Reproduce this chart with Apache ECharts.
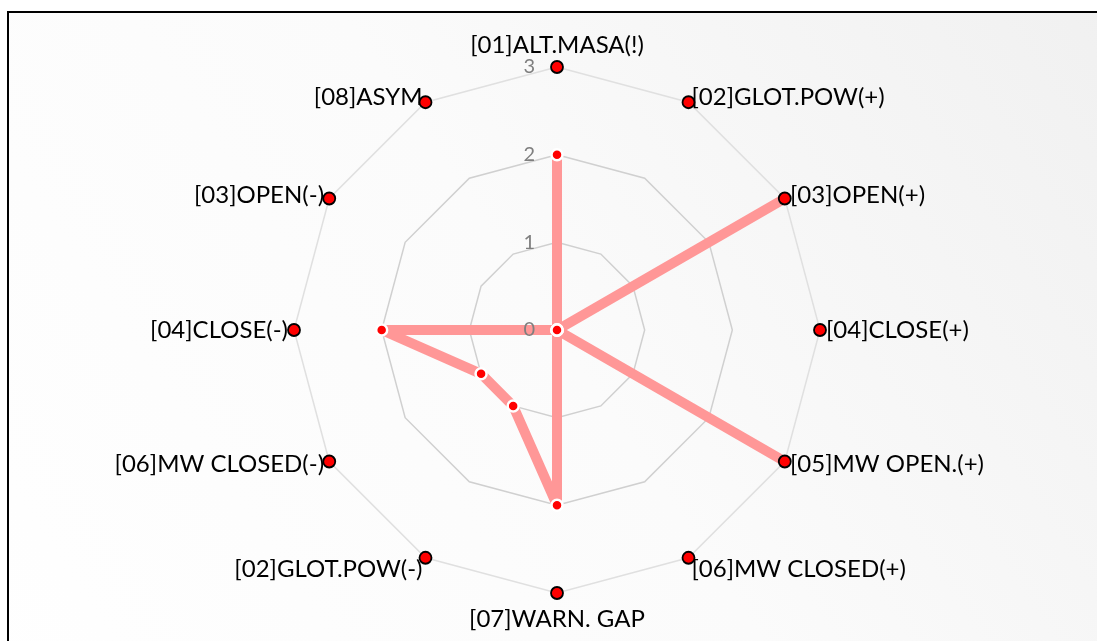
<!DOCTYPE html>
<html>
<head>
<meta charset="utf-8">
<title>radar</title>
<script src="https://cdn.jsdelivr.net/npm/echarts@6/dist/echarts.min.js"></script>
<style>
  html, body { margin: 0; padding: 0; background: #fff; }
  #chart { width: 1097px; height: 641px; }
</style>
</head>
<body>
<div id="chart"></div>
<script>
// axes in clockwise order, starting at the top
var names = [
  "[01]ALT.MASA(!)", "[02]GLOT.POW(+)", "[03]OPEN(+)", "[04]CLOSE(+)",
  "[05]MW OPEN.(+)", "[06]MW CLOSED(+)", "[07]WARN. GAP", "[02]GLOT.POW(-)",
  "[06]MW CLOSED(-)", "[04]CLOSE(-)", "[03]OPEN(-)", "[08]ASYM"
];
var values = [2, 0, 3, 0, 3, 0, 2, 1, 1, 2, 0, 0];
var maxMarks = [3, 3, 3, 3, 3, 3, 3, 3, 3, 3, 3, 3];
var scaleMax = 3;

// echarts lays radar indicators out counter-clockwise, so flip the order
var order = names.map(function (_, i) { return (names.length - i) % names.length; });
function reorder(arr) { return order.map(function (k) { return arr[k]; }); }

var indicator = reorder(names).map(function (n) {
  return { name: n, min: 0, max: scaleMax };
});
// second copy only used to print the 0..3 scale on the top axis, above the line
var labelIndicator = reorder(names).map(function (n, i) {
  var ind = { name: n, min: 0, max: scaleMax };
  if (i === 0) {
    ind.axisLabel = {
      show: true,
      color: "#7f7f7f",
      fontSize: 20,
      fontFamily: "Lato",
      margin: 22
    };
  }
  return ind;
});

// small nudges so the names sit like the original
function nameStyle(name) {
  var idx = names.indexOf(name);
  if (idx === 0) return "top";
  if (idx === 6) return "bottom";
  if (idx === 5 || idx === 7) return "low";
  return "plain";
}

var chart = echarts.init(document.getElementById("chart"));

var option = {
  animation: false,
  graphic: [
    {
      type: "rect",
      z: 0,
      shape: { x: 8, y: 12, width: 1200, height: 800 },
      style: {
        fill: {
          type: "linear", x: 0, y: 1, x2: 1, y2: 0,
          colorStops: [
            { offset: 0, color: "#ffffff" },
            { offset: 0.5, color: "#fbfbfb" },
            { offset: 1, color: "#efefef" }
          ]
        },
        stroke: "#000",
        lineWidth: 2
      }
    }
  ],
  radar: [
    {
      z: 1,
      center: [557, 330],
      radius: 263,
      startAngle: 90,
      splitNumber: 3,
      shape: "polygon",
      indicator: indicator,
      nameGap: 6,
      axisName: {
        color: "#000",
        fontSize: 24,
        fontFamily: "Lato",
        formatter: function (name) {
          return "{" + nameStyle(name) + "|" + name + "}";
        },
        rich: {
          plain: { fontSize: 24, fontFamily: "Lato", color: "#000" },
          top: { fontSize: 24, fontFamily: "Lato", color: "#000", padding: [0, 0, 4, 0] },
          bottom: { fontSize: 24, fontFamily: "Lato", color: "#000", padding: [8, 0, 0, 0] },
          low: { fontSize: 24, fontFamily: "Lato", color: "#000", padding: [12, 0, 0, 0] }
        }
      },
      axisLine: { show: false },
      axisTick: { show: false },
      axisLabel: { show: false },
      splitArea: { show: false },
      splitLine: {
        lineStyle: {
          color: ["#d0d0d0", "#d0d0d0", "#d0d0d0", "#e0e0e0"],
          width: 1.5
        }
      }
    },
    {
      z: 10,
      center: [557, 330],
      radius: 263,
      startAngle: 90,
      splitNumber: 3,
      shape: "polygon",
      indicator: labelIndicator,
      axisName: { show: false },
      axisLine: { show: false },
      axisTick: { show: false },
      axisLabel: {
        show: false,
        color: "#7f7f7f",
        fontSize: 20,
        fontFamily: "Lato",
        margin: 22
      },
      splitArea: { show: false },
      splitLine: { show: false }
    }
  ],
  series: [
    {
      type: "radar",
      radarIndex: 0,
      z: 3,
      symbol: "circle",
      symbolSize: 12,
      lineStyle: { width: 0, opacity: 0 },
      itemStyle: { color: "#ff0000", borderColor: "#000", borderWidth: 1.8 },
      data: [{ value: reorder(maxMarks), name: "max" }]
    },
    {
      type: "radar",
      radarIndex: 0,
      z: 2,
      symbol: "circle",
      symbolSize: 11,
      lineStyle: { color: "#ff9797", width: 10 },
      itemStyle: { color: "#ff0000", borderColor: "#fff", borderWidth: 2.5 },
      data: [{ value: reorder(values), name: "score" }]
    }
  ]
};

chart.setOption(option);
</script>
</body>
</html>
